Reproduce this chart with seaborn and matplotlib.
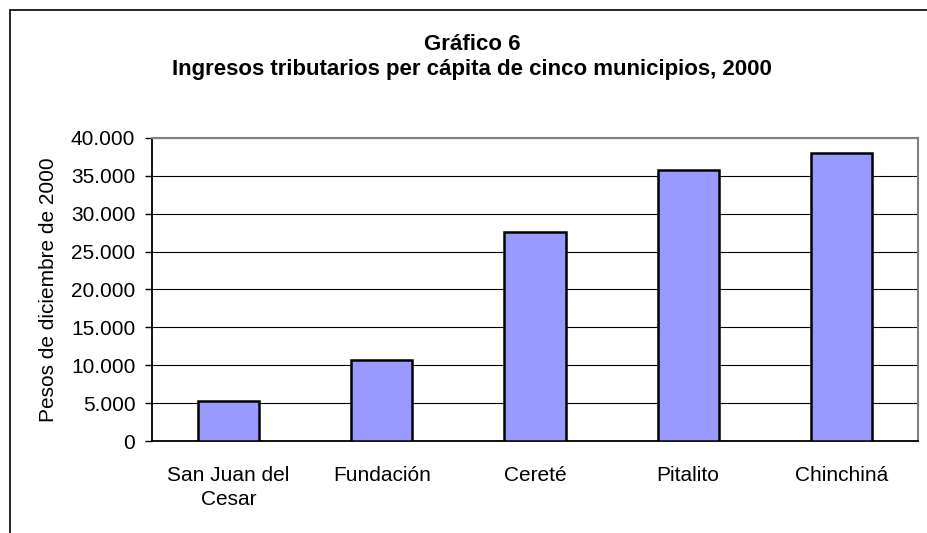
import matplotlib
matplotlib.use('Agg')
import matplotlib.pyplot as plt
import matplotlib.ticker as mticker
from matplotlib.lines import Line2D
import seaborn as sns
import pandas as pd

# Data
municipios = ['San Juan del\nCesar', 'Fundación', 'Cereté', 'Pitalito', 'Chinchiná']
ingresos = [5260, 10700, 27550, 35800, 38000]

df = pd.DataFrame({'Municipio': municipios, 'Ingresos': ingresos})

sns.set_style('white')
plt.rcParams['font.family'] = ['Liberation Sans', 'DejaVu Sans']
plt.rcParams['text.color'] = 'black'
plt.rcParams['axes.labelcolor'] = 'black'

fig = plt.figure(figsize=(9.28, 5.33), dpi=100)
ax = fig.add_axes([0.1638, 0.1722, 0.9892 - 0.1638, 0.7415 - 0.1722])

sns.barplot(data=df, x='Municipio', y='Ingresos', color='#9999FF', saturation=1,
            width=0.4, edgecolor='black', linewidth=1.8, ax=ax, zorder=3)

ax.set_ylim(0, 40000)
ax.set_xlim(-0.5, len(municipios) - 0.5)
ax.yaxis.set_major_locator(mticker.MultipleLocator(5000))
ax.yaxis.set_major_formatter(mticker.FuncFormatter(lambda v, p: f'{int(v):,}'.replace(',', '.')))
ax.grid(axis='y', color='black', linewidth=0.8, zorder=0)

# category boundary ticks on x
ax.set_xticks([i - 0.5 for i in range(len(municipios) + 1)], minor=True)
ax.tick_params(axis='x', which='major', length=0, pad=18, labelsize=15, colors='black')
ax.tick_params(axis='x', which='minor', length=5, width=1, color='black', direction='out')
ax.tick_params(axis='y', length=5, width=1, color='black', direction='out', pad=7,
               labelsize=15, left=True, labelcolor='black')
for lbl in ax.get_xticklabels():
    lbl.set_verticalalignment('top')
    lbl.set_linespacing(1.35)

for side in ['top', 'right']:
    ax.spines[side].set_color('#808080')
    ax.spines[side].set_linewidth(1.5)
for side in ['left', 'bottom']:
    ax.spines[side].set_color('black')
    ax.spines[side].set_linewidth(1.3)

ax.set_xlabel('')
ax.set_ylabel('Pesos de diciembre de 2000', fontsize=15)
ax.yaxis.set_label_coords(-0.1227, 0.5)

fig.text(472 / 928, 1 - 44 / 533, 'Gráfico 6', ha='center', va='center',
         fontsize=16, fontweight='bold')
fig.text(472 / 928, 1 - 70 / 533, 'Ingresos tributarios per cápita de cinco municipios, 2000',
         ha='center', va='center', fontsize=16, fontweight='bold')

# outer chart frame (only left and top edges are visible)
x0, y0 = 10 / 928, 1 - 10 / 533
fig.add_artist(Line2D([x0, 1.0], [y0, y0], transform=fig.transFigure, color='black', linewidth=1.2))
fig.add_artist(Line2D([x0, x0], [0, y0], transform=fig.transFigure, color='black', linewidth=1.2))

fig.savefig('out.png', dpi=100, facecolor='white')
